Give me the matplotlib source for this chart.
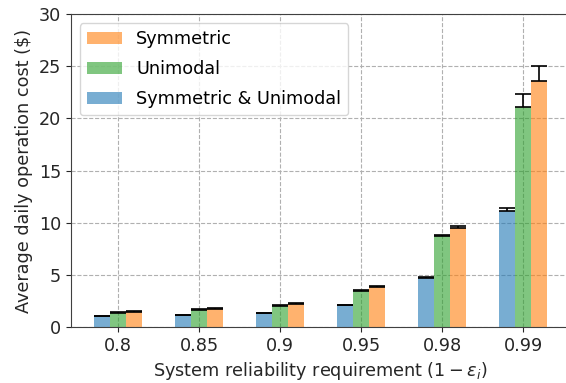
import matplotlib
matplotlib.use("Agg")
import matplotlib.pyplot as plt
import numpy as np

reliability = ["0.8", "0.85", "0.9", "0.95", "0.98", "0.99"]
sym_uni = [1.05, 1.15, 1.31, 2.11, 4.73, 11.15]
sym_uni_err = [0.05, 0.05, 0.05, 0.05, 0.05, 0.3]
unimodal = [1.37, 1.66, 2.04, 3.45, 8.72, 21.1]
unimodal_err = [0.05, 0.05, 0.05, 0.08, 0.15, 1.2]
symmetric = [1.47, 1.75, 2.23, 3.83, 9.52, 23.6]
symmetric_err = [0.05, 0.05, 0.05, 0.08, 0.2, 1.4]

fs = 12.7
fig = plt.figure(figsize=(5.66, 3.83), dpi=100)
ax = fig.add_axes([0.1254, 0.146, 0.882, 0.817])

x = np.arange(len(reliability))
w = 0.2
series = [
    (x - w, sym_uni, sym_uni_err, "tab:blue", "Symmetric & Unimodal"),
    (x, unimodal, unimodal_err, "tab:green", "Unimodal"),
    (x + w, symmetric, symmetric_err, "tab:orange", "Symmetric"),
]
handles = []
for pos, vals, err, color, label in series:
    b = ax.bar(pos, vals, w, color=color, alpha=0.6, label=label, zorder=2)
    ax.errorbar(pos, vals, yerr=[np.zeros(len(err)), err], fmt="none",
                ecolor="black", elinewidth=1.2, capsize=6, capthick=1.2, zorder=3)
    handles.append(b)

ax.set_xticks(x)
ax.set_xticklabels(reliability)
ax.set_xlim(-0.58, 5.58)
ax.set_ylim(0, 30)
ax.set_yticks(range(0, 31, 5))
ax.tick_params(labelsize=fs, colors="#262626", labelcolor="#262626")
for spine in ax.spines.values():
    spine.set_color("#404040")
ax.grid(True, linestyle="--", color="#b0b0b0", linewidth=0.8, zorder=0)
ax.set_axisbelow(True)
ax.set_xlabel(r"System reliability requirement $(1-\epsilon_i)$", fontsize=fs, color="#262626")
ax.set_ylabel(r"Average daily operation cost (\$)", fontsize=fs, color="#262626")
ax.legend(handles[::-1], [h.get_label() for h in handles[::-1]],
          loc="upper left", fontsize=fs, labelspacing=0.68)

fig.savefig("out.png", dpi=100)
